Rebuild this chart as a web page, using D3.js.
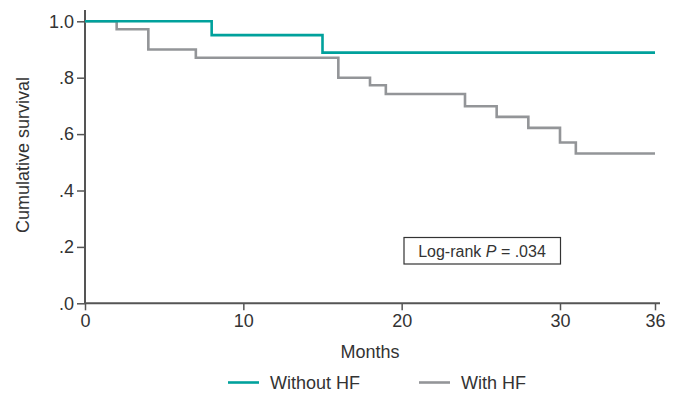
<!DOCTYPE html>
<html lang="en">
<head>
<meta charset="utf-8">
<title>Cumulative survival</title>
<script src="https://d3js.org/d3.v7.min.js"></script>
<style>
  html, body { margin: 0; padding: 0; background: #fff; }
  svg { display: block; font-family: "Liberation Sans", Arial, sans-serif; }
</style>
</head>
<body>
<svg width="678" height="395"></svg>
<script>
// Kaplan-Meier steps: [month, survival]
const withoutHF = [[0, 1.0], [8, 0.951], [15, 0.889], [36, 0.889]];
const withHF = [[0, 1.0], [2, 0.972], [4, 0.90], [7, 0.871], [16, 0.80], [18, 0.773],
                [19, 0.742], [24, 0.699], [26, 0.661], [28, 0.622], [30, 0.570], [31, 0.531], [36, 0.531]];
const xTicks = [0, 10, 20, 30, 36];
const yTicks = [0, 0.2, 0.4, 0.6, 0.8, 1.0];
const yTickLabels = [".0", ".2", ".4", ".6", ".8", "1.0"];
const seriesNames = ["Without HF", "With HF"];
const colors = ["#00a19c", "#939598"];

const svg = d3.select("svg");
const x = d3.scaleLinear().domain([0, 36]).range([85, 655]);
const y = d3.scaleLinear().domain([0, 1]).range([303.3, 21.3]);
const axisColor = "#555";

// axes
const xAxis = svg.append("g").attr("transform", "translate(0,303.3)")
  .call(d3.axisBottom(x).tickValues(xTicks).tickSize(7).tickSizeOuter(0).tickPadding(4));
const yAxis = svg.append("g").attr("transform", "translate(85,0)")
  .call(d3.axisLeft(y).tickValues(yTicks).tickFormat((d, i) => yTickLabels[i]).tickSize(8).tickSizeOuter(0).tickPadding(3));
[xAxis, yAxis].forEach(g => {
  g.select(".domain").remove();
  g.selectAll("line").attr("stroke", axisColor).attr("stroke-width", 1.5);
  g.selectAll("text").attr("fill", "#333").style("font-size", "18px").style("font-family", "Liberation Sans, Arial, sans-serif");
});
svg.append("line").attr("x1", 85).attr("x2", 660).attr("y1", 303.3).attr("y2", 303.3)
  .attr("stroke", axisColor).attr("stroke-width", 2);
svg.append("line").attr("x1", 85).attr("x2", 85).attr("y1", 10).attr("y2", 303.3)
  .attr("stroke", axisColor).attr("stroke-width", 2);

// curves
const line = d3.line().x(d => x(d[0])).y(d => y(d[1])).curve(d3.curveStepAfter);
[withHF, withoutHF].forEach((s, i) => {
  svg.append("path").datum(s).attr("d", line).attr("fill", "none")
    .attr("stroke", colors[1 - i]).attr("stroke-width", 2.6);
});

// axis titles
svg.append("text").attr("x", x(18)).attr("y", 358).attr("text-anchor", "middle")
  .attr("fill", "#333").style("font-size", "18px").text("Months");
svg.append("text").attr("transform", "translate(29,155) rotate(-90)").attr("text-anchor", "middle")
  .attr("fill", "#333").style("font-size", "18px").text("Cumulative survival");

// annotation box
svg.append("rect").attr("x", 404).attr("y", 237.5).attr("width", 156.5).attr("height", 26.5)
  .attr("fill", "#fff").attr("stroke", "#333").attr("stroke-width", 1.2);
const note = svg.append("text").attr("x", 482).attr("y", 256.5).attr("text-anchor", "middle")
  .attr("fill", "#333").style("font-size", "16px");
note.append("tspan").text("Log-rank ");
note.append("tspan").attr("font-style", "italic").text("P");
note.append("tspan").text(" = .034");

// legend
const legX = [228, 419];
seriesNames.forEach((n, i) => {
  svg.append("line").attr("x1", legX[i]).attr("x2", legX[i] + 31).attr("y1", 382.5).attr("y2", 382.5)
    .attr("stroke", colors[i]).attr("stroke-width", 2.6);
  svg.append("text").attr("x", legX[i] + 42).attr("y", 389).attr("fill", "#333")
    .style("font-size", "18px").text(n);
});
</script>
</body>
</html>
